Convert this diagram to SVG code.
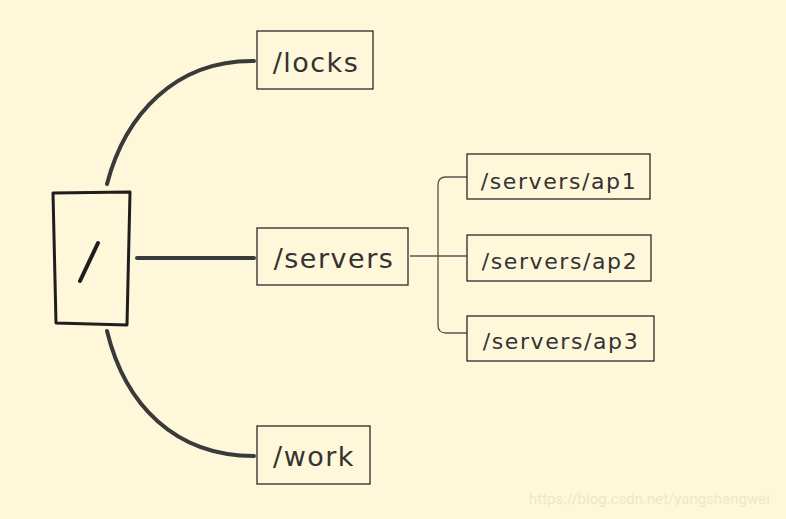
<svg xmlns="http://www.w3.org/2000/svg" width="786" height="519" viewBox="0 0 786 519">
<style>
.box{fill:none;stroke:#2a2a2a;stroke-width:1.3}
.lbl{font-family:"DejaVu Sans",sans-serif;fill:#333;dominant-baseline:central;text-anchor:middle}
.big{font-size:27px;letter-spacing:1.5px}
.small{font-size:22px;letter-spacing:1.6px}
.thick{fill:none;stroke:#3a3a3a;stroke-width:4;stroke-linecap:round}
.thin{fill:none;stroke:#555;stroke-width:1.3}
</style>
<rect width="786" height="519" fill="#fff7d9"/>
<g id="connectors">
<path class="thick" d="M107,184 C125,115 175,60 254,61"/>
<path class="thick" d="M137,258 L254,258"/>
<path class="thick" d="M107,331 C125,405 175,456 254,456"/>
<path class="thin" d="M410,256 L467,256"/>
<path class="thin" d="M467,177 L446,177 Q438,177 438,185 L438,325 Q438,333 446,333 L467,333"/>
</g>
<g id="root">
<path d="M53,193 L130,192 L127,325 L56,323 Z" fill="none" stroke="#1e1e1e" stroke-width="3" stroke-linejoin="round"/>
<path d="M80,281 L98,243" stroke="#1e1e1e" stroke-width="4" stroke-linecap="round"/>
</g>
<g id="locks">
<rect class="box" x="257" y="31" width="116" height="58"/>
<text class="lbl big" x="316" y="62">/locks</text>
</g>
<g id="servers">
<rect class="box" x="257" y="228" width="151" height="57"/>
<text class="lbl big" x="334" y="258">/servers</text>
</g>
<g id="work">
<rect class="box" x="257" y="426" width="113" height="58"/>
<text class="lbl big" x="314" y="456">/work</text>
</g>
<g id="ap1">
<rect class="box" x="467" y="154" width="183" height="45"/>
<text class="lbl small" x="559" y="181">/servers/ap1</text>
</g>
<g id="ap2">
<rect class="box" x="467" y="235" width="184" height="46"/>
<text class="lbl small" x="560" y="261">/servers/ap2</text>
</g>
<g id="ap3">
<rect class="box" x="467" y="316" width="187" height="45"/>
<text class="lbl small" x="561" y="341">/servers/ap3</text>
</g>
<text x="529" y="504" font-family="Roboto,sans-serif" font-size="15" fill="#efe6c9">https://blog.csdn.net/yangshangwei</text>
</svg>
